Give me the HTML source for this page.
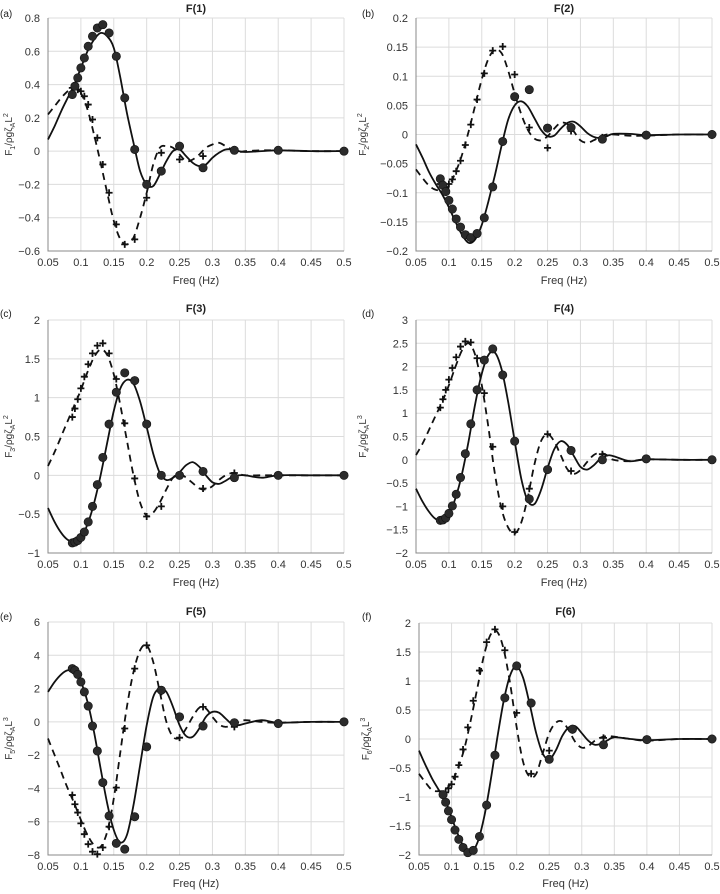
<!DOCTYPE html>
<html><head><meta charset="utf-8"><style>
body{margin:0;background:#fff;}
svg{display:block;font-family:"Liberation Sans",sans-serif;}
</style></head><body>
<svg id="fig" width="720" height="894" viewBox="0 0 720 894"></svg>
<script>
const sampleFreqs=[1/11.5,1/11,1/10.5,1/10,1/9.5,1/9,1/8.5,1/8,1/7.5,1/7,1/6.5,1/6,1/5.5,1/5,1/4.5,1/4,1/3.5,1/3,1/2.5,1/2];
const curveFreqs=[0.05,0.06,0.07,0.08,0.09,0.10,0.11,0.12,0.13,0.14,0.15,0.16,0.17,0.18,0.19,0.20,0.21,0.22,0.23,0.24,0.25,0.26,0.27,0.28,0.29,0.30,0.31,0.32,0.33,0.34,0.35,0.375,0.4,0.45,0.5];
const xTicks=[0.05,0.1,0.15,0.2,0.25,0.3,0.35,0.4,0.45,0.5];

const dotsA=[0.34,0.39,0.44,0.50,0.56,0.63,0.69,0.74,0.76,0.71,0.57,0.32,0.01,-0.20,-0.12,0.03,-0.10,0.005,0.005,0];
const plusA=[0.38,0.39,0.37,0.36,0.33,0.28,0.19,0.08,-0.08,-0.25,-0.44,-0.56,-0.53,-0.28,-0.01,-0.05,-0.03,0.005,0.005,null];
const solidA=[0.07,0.15,0.24,0.32,0.40,0.50,0.60,0.67,0.71,0.69,0.62,0.44,0.23,0.05,-0.12,-0.20,-0.21,-0.14,-0.06,0.00,0.01,-0.03,-0.07,-0.09,-0.08,-0.04,-0.01,0.01,0.01,0.0,-0.005,0.0,0.005,0,0];
const dashA=[0.22,0.27,0.32,0.36,0.39,0.35,0.25,0.10,-0.07,-0.25,-0.42,-0.53,-0.56,-0.52,-0.40,-0.25,-0.08,0.02,0.03,0.02,-0.02,-0.06,-0.05,-0.02,0.02,0.04,0.05,0.03,0.01,-0.005,0,0.005,0.005,0,0];

const dotsB=[-0.076,-0.087,-0.098,-0.113,-0.128,-0.145,-0.159,-0.172,-0.177,-0.170,-0.143,-0.090,-0.012,0.065,0.077,0.011,0.012,-0.008,-0.001,0];
const plusB=[-0.085,-0.088,-0.092,-0.085,-0.077,-0.063,-0.045,-0.018,0.017,0.060,0.105,0.144,0.151,0.103,0.012,-0.023,0.006,-0.005,null,null];
const solidB=[-0.017,-0.04,-0.065,-0.085,-0.103,-0.125,-0.15,-0.172,-0.186,-0.18,-0.155,-0.115,-0.07,-0.02,0.025,0.05,0.057,0.048,0.028,0.008,-0.003,-0.002,0.01,0.02,0.022,0.014,0.003,-0.004,-0.006,-0.003,0.001,0.001,-0.001,0,0];
const dashB=[-0.06,-0.075,-0.088,-0.095,-0.095,-0.088,-0.065,-0.035,0.005,0.05,0.095,0.13,0.145,0.14,0.11,0.07,0.035,0.008,-0.007,-0.01,-0.003,0.01,0.02,0.018,0.005,-0.01,-0.014,-0.01,-0.004,0,0,-0.002,-0.002,0,0];

const dotsC=[-0.87,-0.86,-0.84,-0.80,-0.73,-0.60,-0.40,-0.12,0.23,0.66,1.07,1.32,1.22,0.66,0.0,0.0,0.05,-0.03,0.0,0];
const plusC=[0.75,0.86,0.98,1.12,1.27,1.43,1.57,1.67,1.70,1.57,1.24,0.67,-0.04,-0.53,-0.40,null,-0.17,0.03,null,null];
const solidC=[-0.42,-0.6,-0.74,-0.83,-0.86,-0.80,-0.63,-0.36,0.0,0.42,0.83,1.12,1.23,1.18,0.95,0.62,0.28,0.03,-0.06,-0.03,0.04,0.13,0.17,0.11,0.0,-0.09,-0.11,-0.07,-0.02,0.0,0.0,-0.03,0.0,0,0];
const dashC=[0.12,0.3,0.5,0.7,0.9,1.1,1.33,1.52,1.62,1.55,1.3,0.9,0.45,0.0,-0.35,-0.52,-0.48,-0.35,-0.18,-0.03,0.02,-0.03,-0.1,-0.17,-0.18,-0.14,-0.06,0.0,0.03,0.02,0.0,0.0,0.0,0,0];

const dotsD=[-1.30,-1.29,-1.25,-1.15,-0.99,-0.74,-0.38,0.13,0.77,1.50,2.14,2.38,1.82,0.40,-0.84,-0.21,0.20,0.0,0.02,0];
const plusD=[1.12,1.30,1.50,1.72,1.97,2.20,2.43,2.54,2.52,2.18,1.43,0.28,-1.0,-1.55,-0.62,0.55,-0.24,0.12,null,null];
const solidD=[-0.62,-0.9,-1.12,-1.27,-1.3,-1.18,-0.82,-0.3,0.4,1.2,1.85,2.25,2.3,1.95,1.25,0.4,-0.4,-0.88,-0.95,-0.65,-0.18,0.22,0.4,0.32,0.08,-0.15,-0.21,-0.12,0.02,0.09,0.08,-0.03,0.01,0,0];
const dashD=[0.1,0.35,0.65,0.95,1.25,1.6,2.0,2.35,2.5,2.25,1.6,0.7,-0.3,-1.05,-1.45,-1.58,-1.35,-0.8,-0.1,0.4,0.55,0.4,0.1,-0.2,-0.3,-0.22,-0.05,0.1,0.15,0.1,0.0,-0.03,0.01,0,0];

const dotsE=[3.2,3.1,2.85,2.4,1.8,0.95,-0.25,-1.75,-3.65,-5.65,-7.3,-7.65,-5.7,-1.5,1.9,0.3,-0.25,-0.05,-0.1,0];
const plusE=[-4.4,-4.95,-5.45,-6.1,-6.75,-7.35,-7.8,-7.95,-7.55,-6.3,-3.95,-0.4,3.2,4.6,1.8,-0.95,0.9,-0.3,null,null];
const solidE=[1.8,2.4,2.85,3.1,3.05,2.4,1.2,-0.6,-2.8,-4.9,-6.5,-7.25,-6.8,-5.0,-2.6,-0.2,1.5,2.0,1.8,0.9,-0.2,-0.85,-0.9,-0.4,0.3,0.6,0.55,0.2,-0.15,-0.2,-0.1,0.1,-0.05,0,0];
const dashE=[-1.0,-2.0,-3.0,-4.0,-4.9,-5.9,-6.8,-7.4,-7.5,-6.6,-4.6,-1.8,0.9,3.0,4.3,4.6,3.6,1.8,0.0,-0.9,-0.95,-0.4,0.3,0.85,0.8,0.3,-0.15,-0.3,-0.2,0.0,0.1,0.0,-0.05,0,0];

const dotsF=[-0.96,-1.09,-1.24,-1.39,-1.57,-1.73,-1.87,-1.96,-1.92,-1.68,-1.14,-0.28,0.71,1.26,0.62,-0.35,0.17,-0.1,-0.01,0];
const plusF=[-0.97,-0.92,-0.85,-0.78,-0.65,-0.45,-0.18,0.2,0.66,1.18,1.67,1.89,1.53,0.45,-0.6,-0.2,0.15,0.02,null,null];
const solidF=[-0.2,-0.45,-0.68,-0.87,-1.05,-1.35,-1.65,-1.88,-1.95,-1.78,-1.35,-0.72,0.0,0.65,1.1,1.25,1.05,0.6,0.1,-0.25,-0.35,-0.2,0.05,0.2,0.22,0.1,-0.03,-0.1,-0.08,-0.02,0.03,0.0,-0.02,0,0];
const dashF=[-0.6,-0.75,-0.88,-0.9,-0.88,-0.75,-0.5,-0.15,0.35,0.9,1.45,1.8,1.85,1.55,0.95,0.2,-0.4,-0.65,-0.6,-0.25,0.1,0.28,0.3,0.15,-0.05,-0.15,-0.12,-0.03,0.03,0.05,0.04,0.0,-0.03,0,0];

const yTicksA=[-0.6,-0.4,-0.2,0,0.2,0.4,0.6,0.8];
const yTicksB=[-0.2,-0.15,-0.1,-0.05,0,0.05,0.1,0.15,0.2];
const yTicksC=[-1,-0.5,0,0.5,1,1.5,2];
const yTicksD=[-2,-1.5,-1,-0.5,0,0.5,1,1.5,2,2.5,3];
const yTicksE=[-8,-6,-4,-2,0,2,4,6];
const yTicksF=[-2,-1.5,-1,-0.5,0,0.5,1,1.5,2];

const panels=[
 {id:'a',title:'F(1)',sub:'1',pw:'2',x0:48,x1:344,yt:18,yb:251,ticks:yTicksA,dots:dotsA,plus:plusA,solid:solidA,dash:dashA,ty:8,lx:284},
 {id:'b',title:'F(2)',sub:'2',pw:'2',x0:416,x1:712,yt:18,yb:251,ticks:yTicksB,dots:dotsB,plus:plusB,solid:solidB,dash:dashB,ty:8,lx:284},
 {id:'c',title:'F(3)',sub:'3',pw:'2',x0:48,x1:344,yt:320,yb:553,ticks:yTicksC,dots:dotsC,plus:plusC,solid:solidC,dash:dashC,ty:308,lx:586},
 {id:'d',title:'F(4)',sub:'4',pw:'3',x0:416,x1:712,yt:320,yb:553,ticks:yTicksD,dots:dotsD,plus:plusD,solid:solidD,dash:dashD,ty:308,lx:586},
 {id:'e',title:'F(5)',sub:'5',pw:'3',x0:48,x1:344,yt:622,yb:855,ticks:yTicksE,dots:dotsE,plus:plusE,solid:solidE,dash:dashE,ty:611,lx:887},
 {id:'f',title:'F(6)',sub:'6',pw:'3',x0:419,x1:712,yt:623,yb:855,ticks:yTicksF,dots:dotsF,plus:plusF,solid:solidF,dash:dashF,ty:611,lx:887}
];
const NS='http://www.w3.org/2000/svg';
const svg=document.getElementById('fig');
function mk(tag,attrs,parent){const e=document.createElementNS(NS,tag);for(const k in attrs)e.setAttribute(k,attrs[k]);(parent||svg).appendChild(e);return e;}
function fmt(v){return String(v).replace('-','\u2212');}
function smooth(pts){let d='M'+pts[0][0].toFixed(1)+','+pts[0][1].toFixed(1);
 for(let i=0;i<pts.length-1;i++){const p0=pts[Math.max(0,i-1)],p1=pts[i],p2=pts[i+1],p3=pts[Math.min(pts.length-1,i+2)];
  const c1=[p1[0]+(p2[0]-p0[0])/6,p1[1]+(p2[1]-p0[1])/6],c2=[p2[0]-(p3[0]-p1[0])/6,p2[1]-(p3[1]-p1[1])/6];
  d+=' C'+c1[0].toFixed(1)+','+c1[1].toFixed(1)+' '+c2[0].toFixed(1)+','+c2[1].toFixed(1)+' '+p2[0].toFixed(1)+','+p2[1].toFixed(1);}
 return d;}
panels.forEach(P=>{
 const g=mk('g',{});
 
 
 const ymin=P.ticks[0],ymax=P.ticks[P.ticks.length-1];
 const X=f=>P.x0+(f-0.05)/(0.45)*(P.x1-P.x0);
 const Y=v=>P.yb-(v-ymin)/(ymax-ymin)*(P.yb-P.yt);
 xTicks.forEach(t=>{const l=mk('line',{x1:X(t),x2:X(t),y1:P.yt,y2:P.yb,stroke:'#dcdcdc','stroke-width':1},g);
  
  const tx=mk('text',{x:X(t),y:P.yb+15,'font-size':11,'text-anchor':'middle',fill:'#333'},g);tx.textContent=t;
  });
 P.ticks.forEach(t=>{const l=mk('line',{x1:P.x0,x2:P.x1,y1:Y(t),y2:Y(t),stroke:'#dcdcdc','stroke-width':1},g);
  
  const tx=mk('text',{x:P.x0-8,y:Y(t)+4,'font-size':11,'text-anchor':'end',fill:'#333'},g);tx.textContent=fmt(t);
  });
 const ax=mk('path',{d:`M${P.x0},${P.yt}V${P.yb}H${P.x1}`,fill:'none',stroke:'#888','stroke-width':1},g);
 
 const ti=mk('text',{x:(P.x0+P.x1)/2,y:P.ty+4,'font-size':11,'font-weight':'bold','text-anchor':'middle',fill:'#222'},g);ti.textContent=P.title;
 
 const pl=mk('text',{x:P.x0>400?362:0,y:P.ty+9,'font-size':10,fill:'#222'},g);pl.textContent='('+P.id+')';
 
 const xl=mk('text',{x:(P.x0+P.x1)/2,y:P.lx,'font-size':11,'text-anchor':'middle',fill:'#333'},g);xl.textContent='Freq (Hz)';
 
 const yc=(P.yt+P.yb)/2,yx=P.x0>400?P.x0-50:P.x0-36;
 const yl=mk('text',{x:yx,y:yc,'font-size':10,'text-anchor':'middle',fill:'#333',transform:`rotate(-90 ${yx} ${yc})`},g);
 
 yl.innerHTML=`F<tspan font-size="7" dy="3">${P.sub}</tspan><tspan dy="-3">/ρgζ</tspan><tspan font-size="7" dy="3">A</tspan><tspan dy="-3">L</tspan><tspan font-size="7" dy="-4">${P.pw}</tspan>`;
 const sp=mk('path',{d:smooth(curveFreqs.map((f,i)=>[X(f),Y(P.solid[i])])),fill:'none',stroke:'#111','stroke-width':1.8},g);
 
 const dp=mk('path',{d:smooth(curveFreqs.map((f,i)=>[X(f),Y(P.dash[i])])),fill:'none',stroke:'#111','stroke-width':1.8,'stroke-dasharray':'7,5'},g);
 
 sampleFreqs.forEach((f,i)=>{const v=P.plus[i];if(v===null)return;const x=X(f),y=Y(v);
  const pp=mk('path',{d:`M${x-3.5},${y}H${x+3.5}M${x},${y-3.5}V${y+3.5}`,stroke:'#111','stroke-width':1.8},g);
  });
 sampleFreqs.forEach((f,i)=>{const v=P.dots[i];if(v===null)return;
  const c=mk('circle',{cx:X(f),cy:Y(v),r:4.2,fill:'#2b2b2b',stroke:'#111','stroke-width':0.6},g);
  });
});
</script>
</body></html>
